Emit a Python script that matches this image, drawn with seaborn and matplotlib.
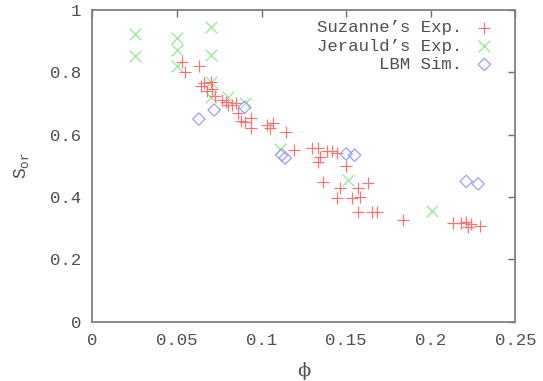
import matplotlib
matplotlib.use("Agg")
import matplotlib.pyplot as plt
import seaborn as sns
import pandas as pd

# Suzanne's Exp.
suz_phi = [0.053, 0.055, 0.063, 0.064, 0.066, 0.068, 0.070, 0.071, 0.0725, 0.0765,
           0.079, 0.080, 0.0825, 0.085, 0.086, 0.088, 0.0905, 0.094, 0.094, 0.103,
           0.105, 0.107, 0.1145, 0.119, 0.130, 0.1335, 0.1345, 0.1335, 0.1385, 0.1415,
           0.1444, 0.1365, 0.150, 0.1464, 0.1444, 0.1533, 0.1572, 0.1582, 0.1631, 0.1572,
           0.1651, 0.168, 0.1838, 0.213, 0.218, 0.221, 0.222, 0.224, 0.229]
suz_sor = [0.834, 0.800, 0.820, 0.755, 0.765, 0.740, 0.770, 0.745, 0.725, 0.711,
           0.706, 0.695, 0.695, 0.700, 0.668, 0.645, 0.641, 0.652, 0.622, 0.631,
           0.620, 0.636, 0.607, 0.550, 0.558, 0.556, 0.527, 0.513, 0.546, 0.549,
           0.540, 0.448, 0.500, 0.428, 0.396, 0.396, 0.428, 0.401, 0.444, 0.353,
           0.353, 0.353, 0.326, 0.315, 0.318, 0.320, 0.305, 0.312, 0.308]

# Jerauld's Exp.
jer_phi = [0.025, 0.025, 0.050, 0.050, 0.050, 0.070, 0.070, 0.070, 0.070, 0.080,
           0.090, 0.111, 0.151, 0.201]
jer_sor = [0.922, 0.851, 0.910, 0.870, 0.820, 0.944, 0.855, 0.770, 0.720, 0.722,
           0.700, 0.553, 0.455, 0.355]

# LBM Sim.
lbm_phi = [0.063, 0.072, 0.090, 0.112, 0.114, 0.150, 0.155, 0.221, 0.228]
lbm_sor = [0.650, 0.679, 0.688, 0.535, 0.525, 0.538, 0.534, 0.450, 0.442]

x_ticks = [0, 0.05, 0.1, 0.15, 0.2, 0.25]
x_tick_labels = ["0", "0.05", "0.1", "0.15", "0.2", "0.25"]
y_ticks = [0, 0.2, 0.4, 0.6, 0.8, 1]
y_tick_labels = ["0", "0.2", "0.4", "0.6", "0.8", "1"]

sns.set_style("white")
plt.rcParams["font.family"] = ["Liberation Mono", "DejaVu Sans"]
plt.rcParams["mathtext.default"] = "regular"

fig = plt.figure(figsize=(5.43, 3.81), dpi=100)
ax = fig.add_axes([0.170, 0.1556, 0.779, 0.8184])

suz = pd.DataFrame({"phi": suz_phi, "sor": suz_sor})
jer = pd.DataFrame({"phi": jer_phi, "sor": jer_sor})
lbm = pd.DataFrame({"phi": lbm_phi, "sor": lbm_sor})

sns.scatterplot(data=suz, x="phi", y="sor", ax=ax, marker="+", s=80,
                color="#ff7070", linewidth=0.85, label="Suzanne\u2019s Exp.", zorder=3)
sns.scatterplot(data=jer, x="phi", y="sor", ax=ax, marker="x", s=70,
                color="#8ee88e", linewidth=0.85, label="Jerauld\u2019s Exp.", zorder=2)
sns.scatterplot(data=lbm, x="phi", y="sor", ax=ax, marker="D", s=40,
                facecolor="none", edgecolor="#9a9aff", linewidth=0.85,
                label="LBM Sim.", zorder=4)

ax.set_xlim(0, 0.25)
ax.set_ylim(0, 1)
ax.set_xticks(x_ticks)
ax.set_xticklabels(x_tick_labels)
ax.set_yticks(y_ticks)
ax.set_yticklabels(y_tick_labels)
ax.tick_params(direction="in", length=5, width=1, color="#707070",
               labelcolor="#505050", labelsize=12.5, top=True, right=True,
               labeltop=False, labelright=False, pad=8)
for sp in ax.spines.values():
    sp.set_color("#808080")
    sp.set_linewidth(1.3)
    sp.set_visible(True)

ax.set_xlabel("\u03d5", fontsize=14, color="#505050", labelpad=10,
              family=["DejaVu Serif", "DejaVu Sans"])
ax.set_ylabel("S$_{or}$", fontsize=13, color="#505050", labelpad=14)

leg = ax.legend(loc="upper right", bbox_to_anchor=(0.972, 1.0), frameon=False,
                markerfirst=False, fontsize=12.5, handletextpad=0.8,
                labelspacing=0.18, borderaxespad=0.2, handlelength=1.0)
for t in leg.get_texts():
    t.set_color("#505050")
leg._legend_box.align = "right"
for col in leg._legend_handle_box.get_children():
    col.align = "right"

fig.savefig("out.png", dpi=100)
